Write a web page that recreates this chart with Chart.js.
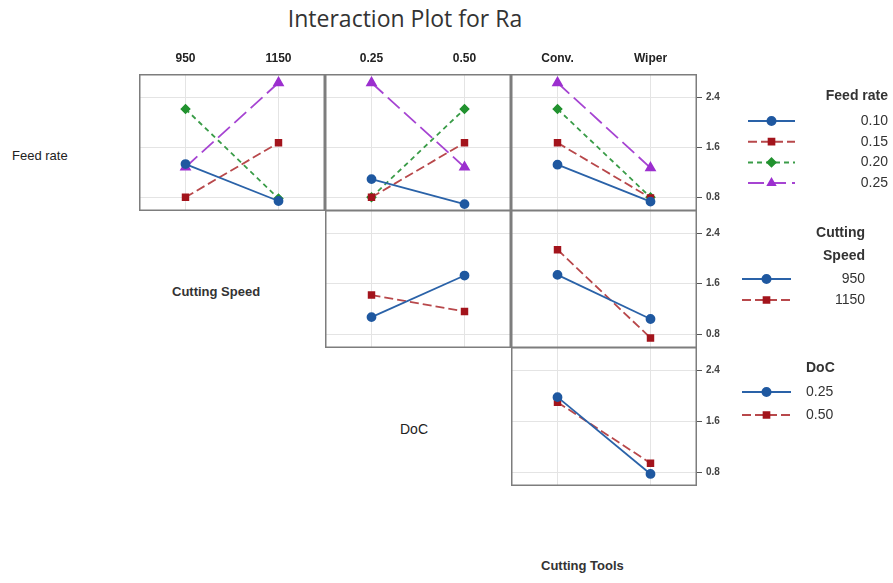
<!DOCTYPE html>
<html>
<head>
<meta charset="utf-8">
<script src="https://cdn.jsdelivr.net/npm/chart.js@4.4.0/dist/chart.umd.min.js"></script>
<style>
  body { margin: 0; background: #fff; width: 893px; height: 583px; position: relative; overflow: hidden; font-family: "Liberation Sans", Arial, sans-serif; }
  .panel { position: absolute; }
  .txt { position: absolute; color: #222; white-space: nowrap; }
</style>
</head>
<body>
<div class="txt" style="left:205px; top:2px; width:400px; text-align:center; font-family:'Open Sans'; font-size:23px; color:#333;">Interaction Plot for Ra</div>
<div class="txt" style="left:12px; top:148px; font-size:13px;">Feed rate</div>
<div class="txt" style="left:172px; top:284px; font-size:13px; font-weight:bold; color:#333;">Cutting Speed</div>
<div class="txt" style="left:400px; top:421px; font-size:14px;">DoC</div>
<div class="txt" style="left:541px; top:558px; font-size:13px; font-weight:bold; color:#333;">Cutting Tools</div>

<div class="panel" style="left:139px; top:44px;"><canvas id="p00" width="186" height="167"></canvas></div>
<div class="panel" style="left:325px; top:44px;"><canvas id="p01" width="186" height="167"></canvas></div>
<div class="panel" style="left:511px; top:44px;"><canvas id="p02" width="382" height="167"></canvas></div>
<div class="panel" style="left:325px; top:210px;"><canvas id="p11" width="186" height="138"></canvas></div>
<div class="panel" style="left:511px; top:210px;"><canvas id="p12" width="382" height="138"></canvas></div>
<div class="panel" style="left:511px; top:347px;"><canvas id="p22" width="382" height="139"></canvas></div>

<script>
// factor levels
const speedLevels = ['950', '1150'];
const docLevels = ['0.25', '0.50'];
const toolLevels = ['Conv.', 'Wiper'];
const feedLabels = ['0.10', '0.15', '0.20', '0.25'];
const speedLabels = ['950', '1150'];
const docLabels = ['0.25', '0.50'];
const yTicks = [0.8, 1.6, 2.4];

// mean Ra
const feedBySpeed = [[1.33, 0.74], [0.80, 1.67], [2.21, 0.78], [1.28, 2.63]];
const feedByDoc = [[1.09, 0.69], [0.80, 1.67], [0.80, 2.21], [2.63, 1.28]];
const feedByTool = [[1.32, 0.73], [1.67, 0.79], [2.21, 0.80], [2.63, 1.27]];
const speedByDoc = [[1.07, 1.73], [1.42, 1.16]];
const speedByTool = [[1.74, 1.04], [2.14, 0.74]];
const docByTool = [[1.98, 0.77], [1.90, 0.94]];

const styles = [
    { line: '#2a62a8', fill: '#1f58a0', dash: [], point: 'circle' },
    { line: '#b8484b', fill: '#a3141c', dash: [9, 4], point: 'rect' },
    { line: '#3a9c48', fill: '#22922f', dash: [5, 4], point: 'rectRot' },
    { line: '#a644d2', fill: '#9c2fcf', dash: [16, 6], point: 'triangle' }
];

// frame round each panel
const framePlugin = {
    id: 'frame',
    afterDraw(chart) {
        const a = chart.chartArea;
        const ctx = chart.ctx;
        ctx.save();
        ctx.strokeStyle = '#7d7d7d';
        ctx.lineWidth = 1.5;
        ctx.strokeRect(a.left + 0.75, a.top + 0.75, a.right - a.left - 1.5, a.bottom - a.top - 1.5);
        ctx.restore();
    }
};

// legend drawn from the chart's own datasets
const sideLegend = {
    id: 'sideLegend',
    afterDraw(chart, args, o) {
        if (!o.title) return;
        const ctx = chart.ctx;
        ctx.save();
        ctx.fillStyle = '#333';
        ctx.textBaseline = 'middle';
        ctx.font = 'bold 14px "Liberation Sans", Arial';
        ctx.textAlign = o.titleAlign;
        o.title.forEach((t, i) => ctx.fillText(t, o.titleX, o.titleY + i * 23));
        ctx.font = '14px "Liberation Sans", Arial';
        chart.data.datasets.forEach((ds, i) => {
            const y = o.rowY + i * o.rowGap;
            ctx.strokeStyle = ds.borderColor;
            ctx.lineWidth = 2;
            ctx.setLineDash(ds.borderDash);
            ctx.beginPath();
            ctx.moveTo(o.x0, y);
            ctx.lineTo(o.x1, y);
            ctx.stroke();
            ctx.setLineDash([]);
            ctx.fillStyle = ds.pointBackgroundColor;
            ctx.strokeStyle = ds.pointBackgroundColor;
            Chart.helpers.drawPoint(ctx, { pointStyle: ds.pointStyle, radius: 4, rotation: 0, borderWidth: 1 }, (o.x0 + o.x1) / 2, y);
            ctx.fillStyle = '#333';
            ctx.textAlign = o.textAlign;
            ctx.fillText(ds.label, o.textX, y);
        });
        ctx.restore();
    }
};

function makePanel(id, levels, names, values, top, right, legend) {
    const datasets = names.map((n, i) => ({
        label: n,
        data: values[i],
        borderColor: styles[i].line,
        borderDash: styles[i].dash,
        borderWidth: 1.8,
        pointStyle: styles[i].point,
        pointBackgroundColor: styles[i].fill,
        pointBorderColor: styles[i].fill,
        pointRadius: styles[i].point === 'triangle' ? 5 : 4,
        tension: 0
    }));
    new Chart(document.getElementById(id), {
        type: 'line',
        data: { labels: levels, datasets: datasets },
        options: {
            responsive: false,
            animation: false,
            layout: { autoPadding: false, padding: { left: 0, top: 0, bottom: 0, right: right ? 156 : 0 } },
            plugins: { legend: { display: false }, tooltip: { enabled: false }, sideLegend: legend || {} },
            scales: {
                x: {
                    position: top ? 'top' : 'bottom',
                    offset: true,
                    grid: { color: '#e4e4e4', offset: false, drawTicks: false },
                    border: { display: false },
                    ticks: { display: top, padding: 8, color: '#222', font: { family: 'Liberation Sans', size: 12, weight: 'bold' } },
                    afterFit: s => {
                        s.height = top ? 30 : 0;
                        s.paddingLeft = s.paddingRight = 0;
                    }
                },
                y: {
                    position: right ? 'right' : 'left',
                    min: 0.58,
                    max: 2.77,
                    afterBuildTicks: s => { s.ticks = yTicks.map(v => ({ value: v })); },
                    grid: { color: '#e4e4e4', drawTicks: right, tickLength: 5, tickColor: '#555' },
                    border: { display: false },
                    ticks: { display: right, padding: 4, color: '#444', font: { family: 'Liberation Sans', size: 10, weight: 'bold' }, callback: v => v.toFixed(1) },
                    afterFit: s => {
                        s.width = right ? 40 : 0;
                        s.paddingTop = s.paddingBottom = 0;
                    }
                }
            }
        },
        plugins: [framePlugin, sideLegend]
    });
}

makePanel('p00', speedLevels, feedLabels, feedBySpeed, true, false);
makePanel('p01', docLevels, feedLabels, feedByDoc, true, false);
makePanel('p02', toolLevels, feedLabels, feedByTool, true, true,
    { title: ['Feed rate'], titleAlign: 'right', titleX: 377, titleY: 52, rowY: 77, rowGap: 20.7, x0: 237, x1: 284, textX: 377, textAlign: 'right' });
makePanel('p11', docLevels, speedLabels, speedByDoc, false, false);
makePanel('p12', toolLevels, speedLabels, speedByTool, false, true,
    { title: ['Cutting', 'Speed'], titleAlign: 'right', titleX: 354, titleY: 23, rowY: 69, rowGap: 21, x0: 231, x1: 280, textX: 354, textAlign: 'right' });
makePanel('p22', toolLevels, docLabels, docByTool, false, true,
    { title: ['DoC'], titleAlign: 'left', titleX: 295, titleY: 21, rowY: 45, rowGap: 23, x0: 231, x1: 280, textX: 295, textAlign: 'left' });
</script>
</body>
</html>
